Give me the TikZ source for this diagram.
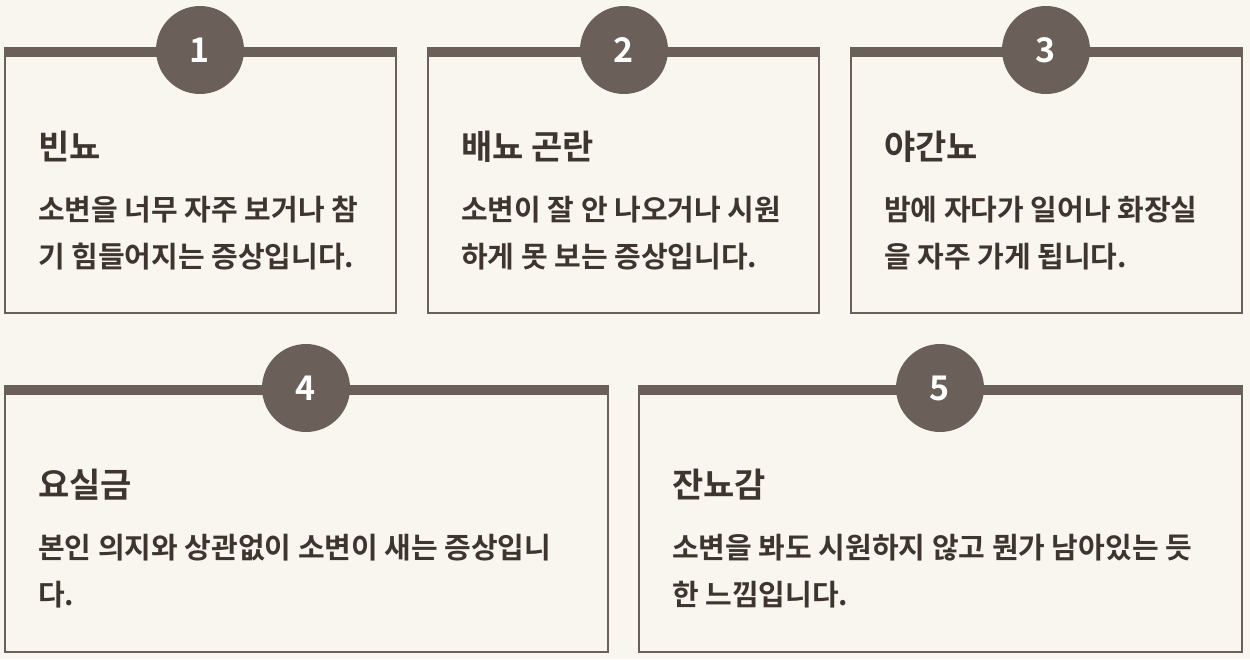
\documentclass[tikz,border=0pt]{standalone}
\usepackage{fontspec}
\newfontfamily\kr{Noto Sans CJK KR Bold}
\definecolor{bg}{HTML}{F9F6F0}
\definecolor{brd}{HTML}{6B6059}
\definecolor{txt}{HTML}{3F3530}
\begin{document}
\begin{tikzpicture}[x=1pt,y=-1pt,
 card/.style={draw=brd,line width=2.5pt,fill=bg},
 bar/.style={fill=brd},
 num/.style={circle,fill=brd,minimum size=88pt,inner sep=0pt,text=white,font=\kr\fontsize{34}{34}\selectfont},
 ttl/.style={anchor=base west,text=txt,font=\kr\fontsize{34}{34}\selectfont,inner sep=0pt},
 bod/.style={anchor=north west,text=txt,font=\kr\fontsize{29}{47}\selectfont,inner sep=0pt,align=left}]
\fill[bg] (0,0) rectangle (1250,659);
\useasboundingbox (0,0) rectangle (1250,659);
\foreach \a/\b/\c/\d/\cx/\n [count=\i] in {5/396/48/313/200/1,428/819/48/313/624/2,851/1242/48/313/1046/3,5/608/386/652/306/4,639/1242/386/652/940/5}{
 \draw[card] (\a,\c) rectangle (\b,\d);
 \fill[bar] (\a-1.25,\c-1.25) rectangle (\b+1.25,\c+9);
 \node[num] (n\i) at (\cx,\c+2) {\n};
}
\node[ttl] (t1) at (38,159) {빈뇨};
\node[bod] (b1) at (38,196) {소변을 너무 자주 보거나 참\\기 힘들어지는 증상입니다.};
\node[ttl] (t2) at (461,159) {배뇨 곤란};
\node[bod] (b2) at (461,196) {소변이 잘 안 나오거나 시원\\하게 못 보는 증상입니다.};
\node[ttl] (t3) at (884,159) {야간뇨};
\node[bod] (b3) at (884,196) {밤에 자다가 일어나 화장실\\을 자주 가게 됩니다.};
\node[ttl] (t4) at (38,497) {요실금};
\node[bod] (b4) at (38,534) {본인 의지와 상관없이 소변이 새는 증상입니\\다.};
\node[ttl] (t5) at (672,497) {잔뇨감};
\node[bod] (b5) at (672,534) {소변을 봐도 시원하지 않고 뭔가 남아있는 듯\\한 느낌입니다.};
\end{tikzpicture}
\end{document}
